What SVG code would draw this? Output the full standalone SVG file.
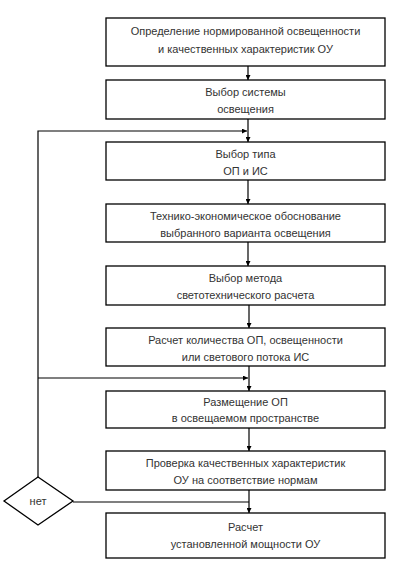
<svg xmlns="http://www.w3.org/2000/svg" width="415" height="579" viewBox="0 0 415 579">
<style>
.box{fill:#fff;stroke:#000;stroke-width:1.3}
.t{font-family:"Liberation Sans",Arial,sans-serif;font-size:11px;fill:#333;text-anchor:middle}
.c{fill:none;stroke:#000;stroke-width:1.2}
</style>
<defs>
<marker id="a" viewBox="0 0 10 10" refX="10" refY="5" markerWidth="5" markerHeight="5" orient="auto" markerUnits="userSpaceOnUse">
<path d="M0,0 L10,5 L0,10 z" fill="#000"/>
</marker>
</defs>
<rect width="415" height="579" fill="#fff"/>
<g id="connectors">
<path class="c" d="M248,66 V80" marker-end="url(#a)"/>
<path class="c" d="M248,119 V142" marker-end="url(#a)"/>
<path class="c" d="M248,180 V204" marker-end="url(#a)"/>
<path class="c" d="M248,242 V266" marker-end="url(#a)"/>
<path class="c" d="M249,305 V328" marker-end="url(#a)"/>
<path class="c" d="M249,366 V391" marker-end="url(#a)"/>
<path class="c" d="M249,428 V451" marker-end="url(#a)"/>
<path class="c" d="M249,490 V513" marker-end="url(#a)"/>
<path class="c" d="M73,502 H249"/>
<path class="c" d="M38,477 V131 H247" marker-end="url(#a)"/>
<path class="c" d="M38,378 H248" marker-end="url(#a)"/>
</g>
<g id="n1"><rect class="box" x="106" y="18" width="279" height="48"/>
<text class="t" x="245.5" y="35">Определение нормированной освещенности</text>
<text class="t" x="245.5" y="53">и качественных характеристик ОУ</text></g>
<g id="n2"><rect class="box" x="106" y="80" width="279" height="39"/>
<text class="t" x="245.5" y="96">Выбор системы</text>
<text class="t" x="245.5" y="113">освещения</text></g>
<g id="n3"><rect class="box" x="106" y="142" width="279" height="38"/>
<text class="t" x="245.5" y="158">Выбор типа</text>
<text class="t" x="245.5" y="175">ОП и ИС</text></g>
<g id="n4"><rect class="box" x="106" y="204" width="279" height="38"/>
<text class="t" x="245.5" y="220">Технико-экономическое обоснование</text>
<text class="t" x="245.5" y="237">выбранного варианта освещения</text></g>
<g id="n5"><rect class="box" x="106" y="266" width="279" height="39"/>
<text class="t" x="245.5" y="282">Выбор метода</text>
<text class="t" x="245.5" y="299">светотехнического расчета</text></g>
<g id="n6"><rect class="box" x="106" y="328" width="279" height="38"/>
<text class="t" x="245.5" y="344">Расчет количества ОП, освещенности</text>
<text class="t" x="245.5" y="361">или светового потока ИС</text></g>
<g id="n7"><rect class="box" x="106" y="391" width="279" height="37"/>
<text class="t" x="245.5" y="406">Размещение ОП</text>
<text class="t" x="245.5" y="422">в освещаемом пространстве</text></g>
<g id="n8"><rect class="box" x="106" y="451" width="279" height="39"/>
<text class="t" x="245.5" y="467">Проверка качественных характеристик</text>
<text class="t" x="245.5" y="484">ОУ на соответствие нормам</text></g>
<g id="n9"><rect class="box" x="106" y="513" width="279" height="45"/>
<text class="t" x="245.5" y="531">Расчет</text>
<text class="t" x="245.5" y="548">установленной мощности ОУ</text></g>
<g id="d1"><path class="box" d="M38,477 L73,501 L38,525 L4,501 Z"/>
<text class="t" x="38" y="505">нет</text></g>
</svg>
